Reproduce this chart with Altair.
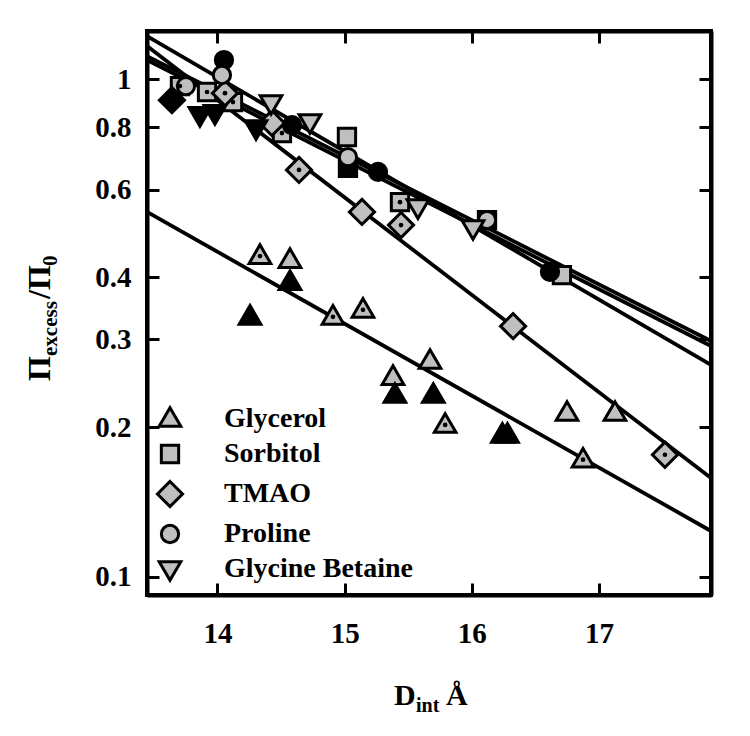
import altair as alt
import pandas as pd

# ---------------- data ----------------
osmolytes = ["Glycerol", "Sorbitol", "TMAO", "Proline", "Glycine Betaine"]

gly_x = [14.334, 14.570, 14.570, 14.256, 14.908, 15.144, 15.380, 15.395, 15.671,
         15.697, 15.790, 16.24, 16.28, 16.748, 17.125, 16.874]
gly_y = [0.441, 0.433, 0.391, 0.333, 0.333, 0.344, 0.252, 0.232, 0.2715,
         0.232, 0.202, 0.193, 0.193, 0.2135, 0.2135, 0.172]
gly_set = ["dot", "grey", "black", "black", "dot", "dot", "grey", "black", "grey",
           "black", "dot", "black", "black", "grey", "grey", "dot"]

sor_x = [13.705, 13.918, 14.122, 14.507, 15.018, 15.026, 15.435, 16.119, 16.708]
sor_y = [0.968, 0.942, 0.899, 0.779, 0.765, 0.663, 0.566, 0.521, 0.404]
sor_set = ["dot", "dot", "dot", "dot", "grey", "black", "dot", "black", "grey"]

tmao_x = [13.642, 14.059, 14.428, 14.641, 15.136, 15.443, 16.324, 17.518]
tmao_y = [0.907, 0.937, 0.816, 0.657, 0.541, 0.509, 0.319, 0.176]
tmao_set = ["black", "dot", "grey", "dot", "grey", "dot", "grey", "dot"]

pro_x = [14.051, 14.035, 13.752, 14.586, 15.026, 15.262, 16.119, 16.614]
pro_y = [1.092, 1.019, 0.968, 0.808, 0.697, 0.651, 0.521, 0.410]
pro_set = ["black", "grey", "grey", "black", "grey", "black", "grey", "black"]

gb_x = [13.862, 13.980, 14.303, 14.421, 14.727, 15.576, 16.009]
gb_y = [0.847, 0.855, 0.797, 0.895, 0.820, 0.553, 0.502]
gb_set = ["black", "black", "black", "grey", "grey", "grey", "grey"]

# exponential fits (straight on the log axis), value at each end of the x range
fit_names = ["Glycerol", "TMAO", "Sorbitol", "Proline", "Glycine Betaine"]
fit_x = [13.446, 17.88]
fit_y_start = [0.541, 1.165, 1.220, 1.112, 1.092]
fit_y_end = [0.1237, 0.158, 0.2666, 0.2978, 0.2910]

x_ticks = [14, 15, 16, 17]
y_ticks = [0.1, 0.2, 0.3, 0.4, 0.6, 0.8, 1]
x_domain = [13.446, 17.88]
y_domain = [0.092, 1.249]

# ---------------- tables ----------------
rows = []
for name, xs_, ys_, ss_ in [("Glycerol", gly_x, gly_y, gly_set),
                            ("Sorbitol", sor_x, sor_y, sor_set),
                            ("TMAO", tmao_x, tmao_y, tmao_set),
                            ("Proline", pro_x, pro_y, pro_set),
                            ("Glycine Betaine", gb_x, gb_y, gb_set)]:
    for a, b, s in zip(xs_, ys_, ss_):
        rows.append({"osmolyte": name, "x": a, "y": b, "set": s,
                     "fillc": "black" if s == "black" else "#bfbfbf"})
pts = pd.DataFrame(rows)

line_rows = []
for n, y0, y1 in zip(fit_names, fit_y_start, fit_y_end):
    line_rows.append({"fit": n, "x": fit_x[0], "y": y0})
    line_rows.append({"fit": n, "x": fit_x[1], "y": y1})
lines_df = pd.DataFrame(line_rows)

# marker outlines (unit space, scaled by sqrt(size)/2)
TRI_UP = "M0,-1.3L1.25,0.85L-1.25,0.85Z"
SQUARE = "M-1,-1L1,-1L1,1L-1,1Z"
DIAMOND = "M0,-1.45L1.45,0L0,1.45L-1.45,0Z"
CIRCLE = "circle"
TRI_DN = "M0,1.3L1.25,-0.85L-1.25,-0.85Z"
shapes = [TRI_UP, SQUARE, DIAMOND, CIRCLE, TRI_DN]

FONT = "Liberation Serif"
xs = alt.Scale(domain=x_domain, nice=False, zero=False)
ys = alt.Scale(type="log", domain=y_domain, nice=False)


def lab_axis(orient, values, fmt, pad):
    return alt.Axis(orient=orient, values=values, format=fmt, tickSize=0,
                    domain=True, domainColor="black", domainWidth=4,
                    grid=False, labelFont=FONT, labelFontSize=29, labelFontWeight="bold",
                    labelColor="black", labelPadding=pad, title=None, labelFlush=False,
                    labelOverlap=False)


def tick_axis(orient, values):
    return alt.Axis(orient=orient, values=values, labels=False, domain=False, grid=False,
                    tickSize=12, tickWidth=3, tickColor="black", offset=-12, title=None)


def frame_axis(orient):
    return alt.Axis(orient=orient, labels=False, ticks=False, grid=False, domain=True,
                    domainColor="black", domainWidth=4, title=None)


lines = alt.Chart(lines_df).mark_line(color="black", strokeWidth=3.8).encode(
    x=alt.X("x:Q", scale=xs, axis=lab_axis("bottom", x_ticks, "d", 24)),
    y=alt.Y("y:Q", scale=ys, axis=lab_axis("left", y_ticks, ".1~f", 16)),
    detail="fit:N",
)

points = alt.Chart(pts).mark_point(filled=True, size=300, stroke="black",
                                   strokeWidth=3, opacity=1).encode(
    x=alt.X("x:Q", scale=xs, axis=tick_axis("bottom", x_ticks)),
    y=alt.Y("y:Q", scale=ys, axis=tick_axis("left", y_ticks)),
    shape=alt.Shape("osmolyte:N", scale=alt.Scale(domain=osmolytes, range=shapes),
                    sort=osmolytes,
                    legend=alt.Legend(title=None, orient="none", legendX=9, legendY=374,
                                      symbolSize=300, symbolFillColor="#bfbfbf",
                                      symbolStrokeColor="black", symbolStrokeWidth=3,
                                      labelFont=FONT, labelFontWeight="bold",
                                      labelFontSize=28, labelColor="black", labelLimit=0,
                                      rowPadding=6, labelOffset=40, padding=0)),
    fill=alt.Fill("fillc:N", scale=None, legend=None),
)

dots = alt.Chart(pts).transform_filter(alt.datum.set == "dot").mark_circle(
    color="black", size=22, opacity=1).encode(
    x=alt.X("x:Q", scale=xs, axis=tick_axis("top", x_ticks)),
    y=alt.Y("y:Q", scale=ys, axis=tick_axis("right", y_ticks)),
)

frame = alt.Chart(pts).mark_point(opacity=0).encode(
    x=alt.X("x:Q", scale=xs, axis=frame_axis("top")),
    y=alt.Y("y:Q", scale=ys, axis=frame_axis("right")),
)

one = pd.DataFrame({"k": [0]})


def txt(s, x, y, size, angle=0):
    return alt.Chart(one).mark_text(text=s, font=FONT, fontWeight="bold", fontSize=size,
                                    align="left", baseline="alphabetic", angle=angle,
                                    color="black").encode(x=alt.value(x), y=alt.value(y))


# y title: Π_excess / Π_0 (rotated)
yt = [txt("Π", -97, 350, 32, 270), txt("excess", -90, 325, 21, 270),
      txt("/Π", -97, 268, 32, 270), txt("0", -90, 235, 21, 270)]
# x title: D_int Å
xt = [txt("D", 247, 674, 30), txt("int", 269, 681, 20), txt("Å", 299, 674, 30)]

chart = alt.layer(lines, points, dots, frame, *yt, *xt).resolve_axis(
    x="independent", y="independent"
).properties(
    width=564, height=564,
    background="white",
    autosize=alt.AutoSizeParams(type="none"),
    padding={"left": 139, "top": 23, "right": 30, "bottom": 130},
).configure_view(stroke="black", strokeWidth=4)

chart.save("out.html", embed_options={"renderer": "svg", "actions": False})
